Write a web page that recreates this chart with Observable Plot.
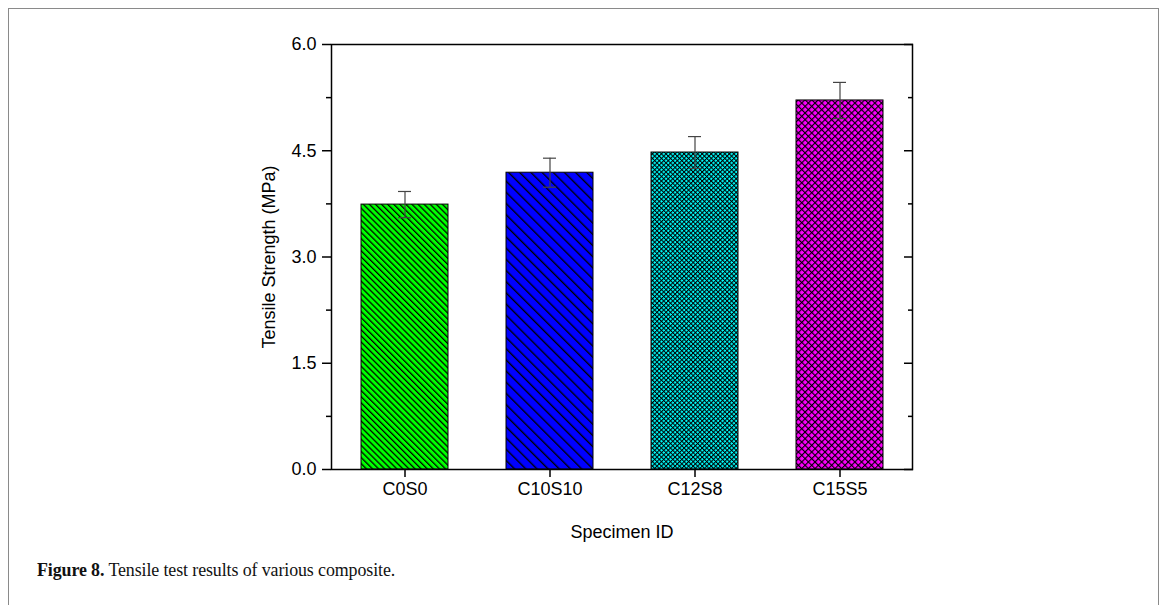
<!DOCTYPE html>
<html>
<head>
<meta charset="utf-8">
<script src="https://cdn.jsdelivr.net/npm/d3@7"></script>
<script src="https://cdn.jsdelivr.net/npm/@observablehq/plot@0.6"></script>
<style>
  html, body { margin: 0; padding: 0; background: #fff; width: 1168px; height: 605px; overflow: hidden; }
  #frame { position: absolute; left: 8px; top: 8px; width: 1151px; height: 700px; border: 1px solid #8a8a8a; box-sizing: border-box; }
  #chart { position: absolute; left: 0; top: 0; }
  #caption { position: absolute; left: 37px; top: 560px; font-family: "Liberation Serif", "DejaVu Serif", serif; font-size: 17.9px; color: #111; white-space: nowrap; letter-spacing: -0.1px; }
  #caption b { font-weight: bold; }
</style>
</head>
<body>
<div id="frame"></div>
<div id="chart"></div>
<div id="caption"><b>Figure 8.</b> Tensile test results of various composite.</div>
<script>
const categories = ["C0S0", "C10S10", "C12S8", "C15S5"];
const strength = [3.74, 4.19, 4.475, 5.21];
const errors = [0.185, 0.205, 0.225, 0.255];
const majorTicks = [0, 1.5, 3.0, 4.5, 6.0];
const minorTicks = [0.75, 2.25, 3.75, 5.25];
const patternIds = ["url(#pGreen)", "url(#pBlue)", "url(#pCyan)", "url(#pMagenta)"];

const data = categories.map((c, i) => ({
  id: c, v: strength[i], lo: strength[i] - errors[i], hi: strength[i] + errors[i]
}));

const font = "Liberation Sans, Arial, sans-serif";

const plot = Plot.plot({
  width: 1168,
  height: 555,
  marginTop: 44,
  marginLeft: 331,
  marginRight: 256,
  marginBottom: 86,
  style: { fontFamily: font, fontSize: "18px", color: "#000", background: "transparent" },
  x: { domain: categories, paddingInner: 0.4, paddingOuter: 0.2, label: null },
  y: { domain: [0, 6], label: null },
  color: { type: "ordinal", domain: categories, range: patternIds },
  marks: [
    Plot.barY(data, { x: "id", y: "v", fill: "id", stroke: "#000", strokeWidth: 1 }),
    Plot.ruleX(data, { x: "id", y1: "lo", y2: "hi", stroke: "#444", strokeWidth: 1.2 }),
    Plot.tickY(data, { x: "id", y: "lo", stroke: "#444", strokeWidth: 1.2, insetLeft: 37, insetRight: 37 }),
    Plot.tickY(data, { x: "id", y: "hi", stroke: "#444", strokeWidth: 1.2, insetLeft: 37, insetRight: 37 }),
    Plot.axisY(majorTicks, { anchor: "left", tickSize: 9, tickPadding: 6, tickFormat: d => d.toFixed(1), strokeWidth: 1.5,
      label: "Tensile Strength (MPa)", labelAnchor: "center", labelOffset: 69, labelArrow: "none" }),
    Plot.axisY(minorTicks, { anchor: "left", tickSize: 5, text: null, strokeWidth: 1.5, label: null }),
    Plot.axisY(majorTicks, { anchor: "right", tickSize: -9, text: null, strokeWidth: 1.5, label: null }),
    Plot.axisY(minorTicks, { anchor: "right", tickSize: -5, text: null, strokeWidth: 1.5, label: null }),
    Plot.axisX(categories, { anchor: "bottom", tickSize: 8, tickPadding: 5, strokeWidth: 1.5,
      label: "Specimen ID", labelAnchor: "center", labelOffset: 68, labelArrow: "none" }),
    Plot.frame({ stroke: "#000", strokeWidth: 1.5 })
  ]
});

// pattern definitions
const ns = "http://www.w3.org/2000/svg";
const defs = document.createElementNS(ns, "defs");
function mk(tag, attrs) { const e = document.createElementNS(ns, tag); for (const k in attrs) e.setAttribute(k, attrs[k]); return e; }
function hatch(id, color, s, lw, cross) {
  const p = mk("pattern", { id, patternUnits: "userSpaceOnUse", width: s, height: s, patternTransform: "rotate(-45)" });
  p.appendChild(mk("rect", { x: 0, y: 0, width: s, height: s, fill: color }));
  p.appendChild(mk("rect", { x: 0, y: 0, width: lw, height: s, fill: "#000" }));
  if (cross) p.appendChild(mk("rect", { x: 0, y: 0, width: s, height: lw, fill: "#000" }));
  defs.appendChild(p);
}
hatch("pGreen", "#00ff00", 4.3, 1.25, false);
hatch("pBlue", "#0000ff", 7.9, 1.35, false);
hatch("pCyan", "#00ffff", 3.2, 1.05, true);
hatch("pMagenta", "#ff00ff", 4.7, 1.15, true);
plot.insertBefore(defs, plot.firstChild);

document.getElementById("chart").appendChild(plot);
</script>
</body>
</html>
